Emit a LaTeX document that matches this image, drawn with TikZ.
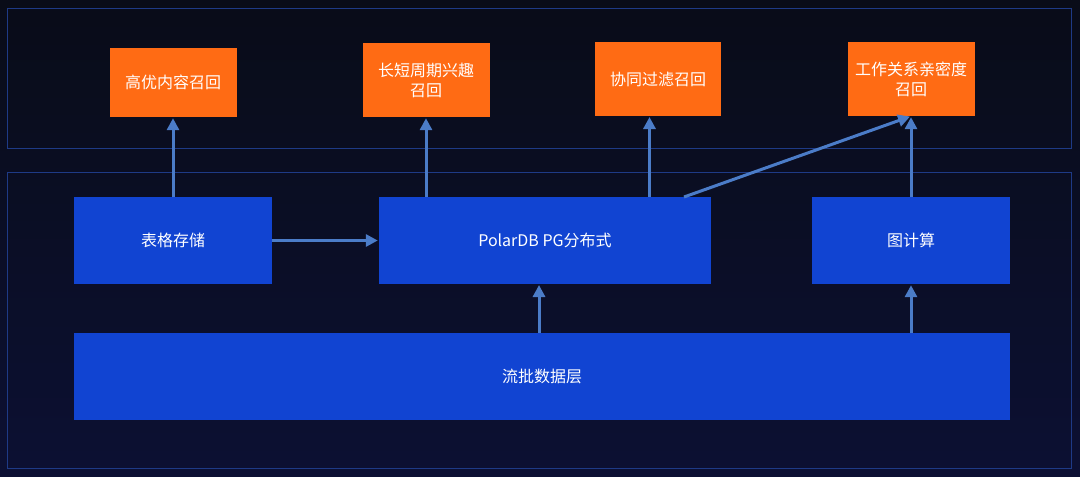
\documentclass[tikz,border=0pt]{standalone}
\usepackage{fontspec}
\setmainfont{Noto Sans CJK SC}
\usetikzlibrary{arrows.meta}
\definecolor{bgtop}{HTML}{090C18}
\definecolor{bgbot}{HTML}{0C1033}
\definecolor{frame}{HTML}{1E3A86}
\definecolor{orangebox}{HTML}{FF6B14}
\definecolor{bluebox}{HTML}{1144D2}
\definecolor{arrowc}{HTML}{4B7CC8}
\tikzset{
  panel/.style={draw=frame, line width=1pt},
  recall/.style={fill=orangebox, text=white, font=\fontsize{16}{20}\selectfont, align=center, inner sep=0pt},
  layer/.style={fill=bluebox, text=white, font=\fontsize{16}{20}\selectfont, align=center, inner sep=0pt},
  arr/.style={draw=arrowc, line width=3pt, -{Triangle[width=12pt,length=12pt]}, shorten >=1pt},
}
\begin{document}
\begin{tikzpicture}[x=1pt,y=-1pt]
  \shade[top color=bgtop, bottom color=bgbot] (0,0) rectangle (1080,477);
  \useasboundingbox (0,0) rectangle (1080,477);
  \draw[panel] (7,8) rectangle (1071,148);
  \draw[panel] (7,172) rectangle (1071,468);

  \node[recall, minimum width=127pt, minimum height=69pt] (o1) at (173,82.5) {高优内容召回};
  \node[recall, minimum width=127pt, minimum height=74pt] (o2) at (426,80) {长短周期兴趣\\召回};
  \node[recall, minimum width=126pt, minimum height=74pt] (o3) at (658,79) {协同过滤召回};
  \node[recall, minimum width=127pt, minimum height=74pt] (o4) at (911,79) {工作关系亲密度\\召回};

  \node[layer, minimum width=198pt, minimum height=87pt] (tb) at (173,240.5) {表格存储};
  \node[layer, minimum width=332pt, minimum height=87pt] (pg) at (545,240.5) {PolarDB PG分布式};
  \node[layer, minimum width=198pt, minimum height=87pt] (gc) at (911,240.5) {图计算};
  \node[layer, minimum width=936pt, minimum height=87pt] (sb) at (542,376.5) {流批数据层};

  \coordinate (a2) at (426,197);
  \coordinate (a3) at (649.5,197);
  \coordinate (a3t) at (649.5,116);
  \coordinate (d1) at (684,197);
  \coordinate (s1) at (539,333);
  \coordinate (s1t) at (539,284);

  \draw[arr] (tb.north) -- (o1.south);
  \draw[arr] (a2) -- (o2.south);
  \draw[arr] (a3) -- (a3t);
  \draw[arr] (gc.north) -- (o4.south);
  \draw[arr] (d1) -- (o4.south);
  \draw[arr] (tb.east) -- (pg.west);
  \draw[arr] (s1) -- (s1t);
  \draw[arr] (sb.north -| gc.south) -- (gc.south);
\end{tikzpicture}
\end{document}
